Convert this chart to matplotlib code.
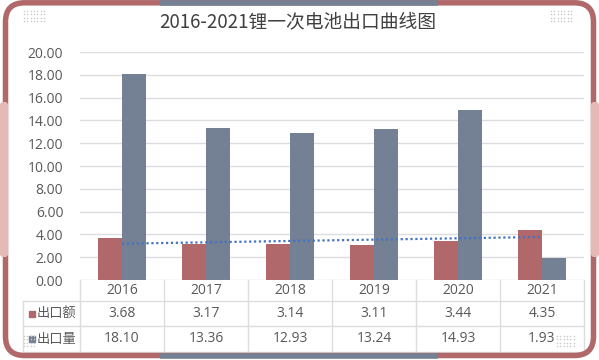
import matplotlib
matplotlib.use("Agg")
import matplotlib.pyplot as plt
import numpy as np
from matplotlib.patches import FancyBboxPatch
from matplotlib.lines import Line2D

# ---- data ----
years = ["2016", "2017", "2018", "2019", "2020", "2021"]
export_value = [3.68, 3.17, 3.14, 3.11, 3.44, 4.35]     # 出口额
export_volume = [18.10, 13.36, 12.93, 13.24, 14.93, 1.93]  # 出口量
series_names = ["出口额", "出口量"]
yticks = [0, 2, 4, 6, 8, 10, 12, 14, 16, 18, 20]
title = "2016-2021锂一次电池出口曲线图"

RED = "#B0686B"
SLATE = "#748093"
PINK = "#E4B9B6"
GRID = "#DDDDDD"
TXT = "#595959"

plt.rcParams['font.family'] = ['Open Sans', 'Noto Sans CJK SC', 'DejaVu Sans']

W, H = 599, 360
fig = plt.figure(figsize=(W / 100, H / 100), dpi=100)
fig.patch.set_facecolor("white")

def fx(x):
    return x / W

def fy(y):
    return 1 - y / H

# axes: x 80..584 px, y 52..280 px
ax = fig.add_axes([fx(80), fy(280), fx(584) - fx(80), fy(52) - fy(280)])
ax.set_xlim(-0.5, len(years) - 0.5)
ax.set_ylim(0, 20)
for s in ax.spines.values():
    s.set_visible(False)
ax.set_yticks(yticks)
ax.set_yticklabels([f"{v:.2f}" for v in yticks])
ax.tick_params(axis="y", length=0, pad=12, labelsize=10, labelcolor=TXT)
ax.set_xticks([])
ax.yaxis.grid(True, color=GRID, lw=1.0)
ax.set_axisbelow(True)

x = np.arange(len(years))
bw = 0.286
ax.bar(x - bw / 2, export_value, bw, color=RED, zorder=2)
ax.bar(x + bw / 2, export_volume, bw, color=SLATE, zorder=2)

# linear trendline of 出口额
k, b = np.polyfit(x, export_value, 1)
ax.plot([x[0], x[-1]], [k * x[0] + b, k * x[-1] + b], ls=(0, (1, 1.2)),
        color="#4472C4", lw=1.6, zorder=3)

# ---- data table below ----
tr = ax.get_xaxis_transform()  # x data, y axes
ah = 228.0
r0, r1, r2, r3 = 0, -21 / ah, -46 / ah, -72 / ah
lx = -0.5 - (80 - 23) / 84.0  # left edge of label column in data units
kw = dict(transform=tr, color=GRID, lw=1.0, clip_on=False)
ax.plot([lx, 5.5], [r1, r1], **kw)
ax.plot([lx, 5.5], [r2, r2], **kw)
ax.plot([lx, 5.5], [r3, r3], **kw)
ax.plot([lx, lx], [r1, r3], **kw)
for xv in np.arange(-0.5, 6.0, 1.0):
    ax.plot([xv, xv], [r0, r3], **kw)

for i, yr in enumerate(years):
    ax.text(i, (r0 + r1) / 2, yr, transform=tr, ha="center", va="center",
            fontsize=10, color=TXT, clip_on=False)
    ax.text(i, (r1 + r2) / 2, f"{export_value[i]:.2f}", transform=tr,
            ha="center", va="center", fontsize=10, color=TXT, clip_on=False)
    ax.text(i, (r2 + r3) / 2, f"{export_volume[i]:.2f}", transform=tr,
            ha="center", va="center", fontsize=10, color=TXT, clip_on=False)

for (ra, rb), name, col in [((r1, r2), series_names[0], RED), ((r2, r3), series_names[1], SLATE)]:
    yc = (ra + rb) / 2
    ax.plot([lx + 9 / 84.0], [yc], marker="s", ms=4.5, color=col, transform=tr, clip_on=False)
    ax.text(lx + 14 / 84.0, yc, name, transform=tr, ha="left", va="center",
            fontsize=9.5, color=TXT, clip_on=False, family=['Noto Sans CJK SC'])

# ---- title ----
fig.text(fx(298), fy(22), title, ha="center", va="center", fontsize=13.5,
         color="#404040", family=['Noto Sans CJK SC', 'DejaVu Sans'])

# ---- frame decoration (inch coords) ----
T = fig.dpi_scale_trans

def inx(x):
    return x / 100.0

def iny(y):
    return (H - y) / 100.0

lw_pt = 5.5 * 72 / 100
frame = FancyBboxPatch((inx(5.5), iny(355.5)), inx(593.5 - 5.5), (355.5 - 2.8) / 100,
                       boxstyle="round,pad=0,rounding_size=0.19",
                       fc="none", ec=RED, lw=lw_pt, transform=T)
fig.patches.append(frame)
for yy in (2.8, 355.5):
    fig.add_artist(Line2D([inx(160), inx(438)], [iny(yy), iny(yy)], color=SLATE,
                          lw=lw_pt, solid_capstyle="butt", transform=T))
for x0 in (0, 591):
    p = FancyBboxPatch((inx(x0), iny(257)), 0.08, (257 - 102) / 100,
                       boxstyle="round,pad=0,rounding_size=0.03",
                       fc=PINK, ec="none", transform=T)
    fig.patches.append(p)

# dotted decorative patches
def dots(x0, y0, nx, ny):
    xs, ys = np.meshgrid(np.arange(nx) * 3.3 + x0, np.arange(ny) * 3.3 + y0)
    fig.add_artist(Line2D(inx(xs.ravel()), iny(ys.ravel()), ls="none", marker="o",
                          ms=1.1, mew=0, color="#C8C8C8", transform=T))

dots(24, 11, 7, 4)
dots(551, 11, 7, 4)
dots(557, 336, 6, 4)
dots(24, 336, 4, 4)

fig.savefig("out.png", dpi=100)
